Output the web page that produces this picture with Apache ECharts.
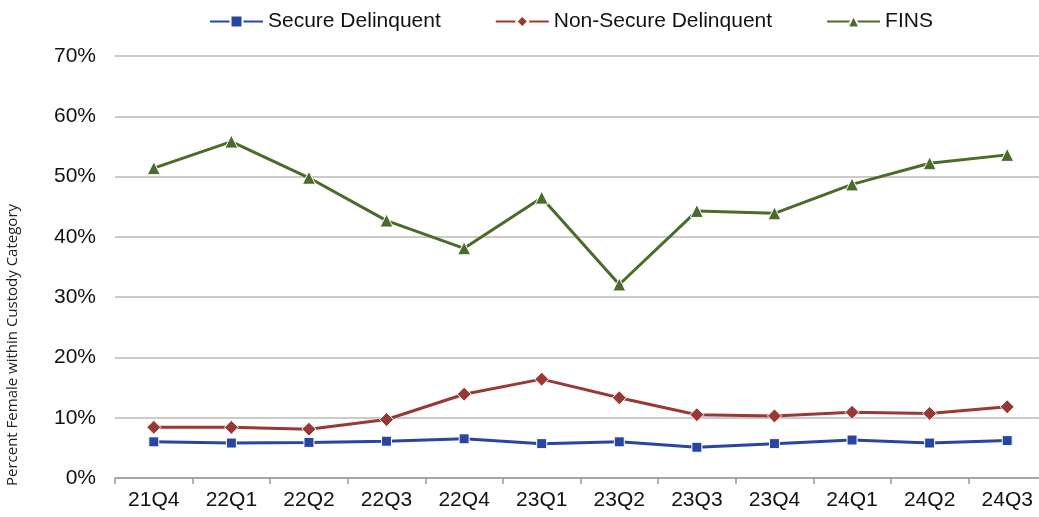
<!DOCTYPE html>
<html>
<head>
<meta charset="utf-8">
<script src="https://cdn.jsdelivr.net/npm/echarts@6/dist/echarts.min.js"></script>
<style>html,body{margin:0;padding:0;background:#fff}#c{width:1039px;height:517px}</style>
</head>
<body>
<div id="c"></div>
<script>
var categories = ['21Q4','22Q1','22Q2','22Q3','22Q4','23Q1','23Q2','23Q3','23Q4','24Q1','24Q2','24Q3'];
var secureDelinquent = [6.0, 5.8, 5.9, 6.1, 6.5, 5.7, 6.0, 5.1, 5.7, 6.3, 5.8, 6.2];
var nonSecureDelinquent = [8.4, 8.4, 8.1, 9.7, 13.9, 16.4, 13.3, 10.5, 10.3, 10.9, 10.7, 11.8];
var fins = [51.4, 55.8, 49.8, 42.7, 38.1, 46.5, 32.1, 44.3, 43.9, 48.7, 52.2, 53.6];
var yTicks = {min: 0, max: 70, interval: 10};
var yTitle = 'Percent Female within Custody Category';

var chart = echarts.init(document.getElementById('c'));
var font = 'Liberation Sans, Arial, sans-serif';
function mk(name, data, color, symbol, size) {
  return {
    name: name, type: 'line', data: data,
    symbol: symbol, symbolSize: size,
    lineStyle: {color: color, width: 3},
    itemStyle: {color: color, borderColor: '#fff', borderWidth: 1},
    emphasis: {disabled: true},
    animation: false
  };
}
chart.setOption({
  animation: false,
  legend: {
    top: 6, left: 204, itemGap: 54, itemWidth: 53, itemHeight: 15,
    textStyle: {fontFamily: font, fontSize: 21, color: '#111'},
    data: ['Secure Delinquent','Non-Secure Delinquent','FINS']
  },
  grid: {left: 115, width: 931, top: 56, bottom: 39, containLabel: false, outerBoundsMode: 'none'},
  xAxis: {
    type: 'category', data: categories, boundaryGap: true,
    axisLine: {lineStyle: {color: '#9a9a9a', width: 1.5}},
    axisTick: {show: true, length: 6, alignWithLabel: false, lineStyle: {color: '#9a9a9a', width: 1.5}},
    axisLabel: {fontFamily: font, fontSize: 21, color: '#111', margin: 12}
  },
  yAxis: {
    type: 'value', min: yTicks.min, max: yTicks.max, interval: yTicks.interval,
    axisLine: {show: false}, axisTick: {show: false},
    axisLabel: {fontFamily: font, fontSize: 21, color: '#111', margin: 19, formatter: '{value}%'},
    splitLine: {lineStyle: {color: '#b8b8b8', width: 1.5}}
  },
  graphic: [{
    type: 'text', x: 13, y: 345, rotation: Math.PI / 2,
    style: {text: yTitle, fontFamily: 'Open Sans, sans-serif', fontSize: 15, fill: '#222', align: 'center', verticalAlign: 'middle'}
  }],
  series: [
    mk('Secure Delinquent', secureDelinquent, '#2846a0', 'rect', 10),
    mk('Non-Secure Delinquent', nonSecureDelinquent, '#993936', 'diamond', 14),
    mk('FINS', fins, '#4a6b2a', 'triangle', 13)
  ]
});
</script>
</body>
</html>
